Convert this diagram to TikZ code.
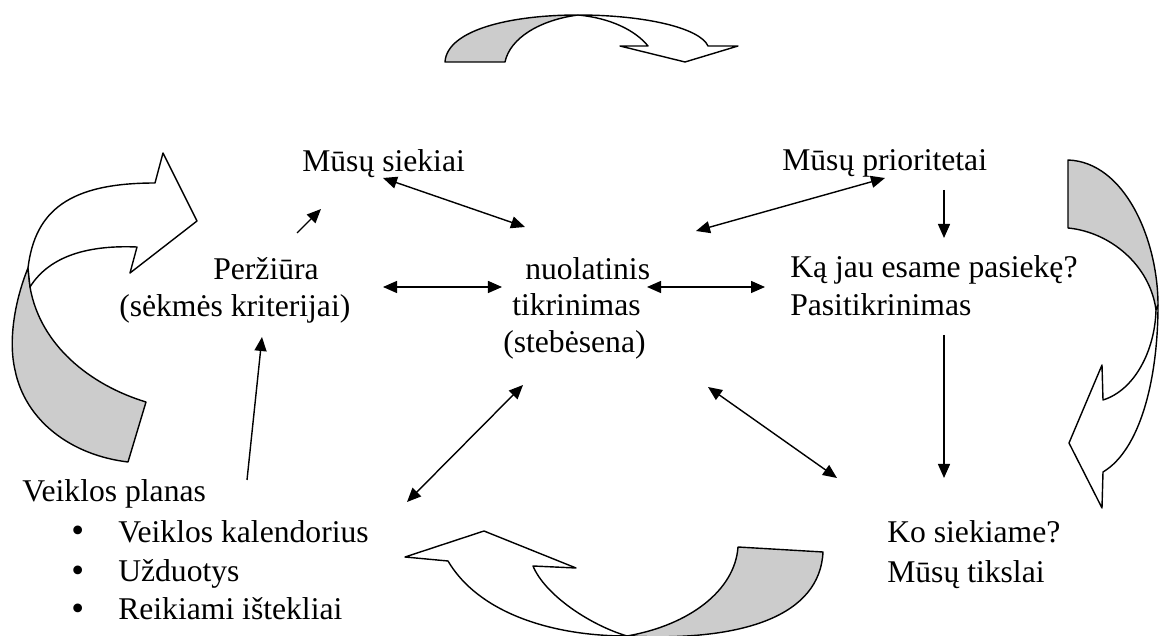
\documentclass[tikz,border=0pt]{standalone}
\usepackage{fontspec}
\setmainfont{Liberation Serif}
\usetikzlibrary{arrows.meta}
\tikzset{
  lbl/.style={anchor=base west, inner sep=0pt, font=\fontsize{22.5}{27}\selectfont},
  dotlbl/.style={anchor=base west, inner sep=0pt, font=\fontsize{26}{26}\selectfont},
  tip/.tip={Triangle[length=0.35cm,width=0.3cm]},
  one/.style={-tip, line width=1pt},
  both/.style={tip-tip, line width=1pt},
  band/.style={draw, line width=1pt, line join=round},
}

\begin{document}
\begin{tikzpicture}[x=0.025cm, y=-0.025cm]
    \useasboundingbox (0,0) rectangle (1160,636);
    % texts
    \node[lbl] (siekiai) at (302,172) {Mūsų siekiai};
    \node[lbl] (prior) at (782,171) {Mūsų prioritetai};
    \node[lbl] (perz) at (213,280) {Peržiūra};
    \node[lbl] (krit) at (119,317) {(sėkmės kriterijai)};
    \node[lbl] (nuol) at (525,280) {nuolatinis};
    \node[lbl] (tikr) at (512,316) {tikrinimas};
    \node[lbl] (steb) at (503,353) {(stebėsena)};
    \node[lbl] (ka) at (790,278) {Ką jau esame pasiekę?};
    \node[lbl] (pasit) at (790,316) {Pasitikrinimas};
    \node[lbl] (ko) at (887,542) {Ko siekiame?};
    \node[lbl] (tiksl) at (887,582) {Mūsų tikslai};
    \node[lbl] (planas) at (22,502) {Veiklos planas};
    \foreach \y/\name/\txt in {542/kal/Veiklos kalendorius, 581/uzd/Užduotys, 619/ist/Reikiami ištekliai} {
        \node[dotlbl] (dot\name) at (71,\y+1) {\textbullet};
        \node[lbl] (\name) at (118,\y) {\txt};
    }

    % connector ends
    \coordinate (s1) at (383,178);  \coordinate (n1) at (525,227);
    \coordinate (p1) at (297,233);  \coordinate (s2) at (321,209);
    \coordinate (p2) at (383,287);  \coordinate (n2) at (502,287);
    \coordinate (n3) at (647,287);  \coordinate (k1) at (765,287);
    \coordinate (r1) at (885,178);  \coordinate (n4) at (696,231);
    \coordinate (r2) at (944,190);  \coordinate (k2) at (944,238);
    \coordinate (k3) at (944,335);  \coordinate (t1) at (944,478);
    \coordinate (n5) at (708,387);  \coordinate (t2) at (837,478);
    \coordinate (n6) at (523,385);  \coordinate (v1) at (407,502);
    \coordinate (v2) at (247,480);  \coordinate (p3) at (262,337);

    \draw[both] (s1) -- (n1);
    \draw[one] (p1) -- (s2);
    \draw[both] (p2) -- (n2);
    \draw[both] (n3) -- (k1);
    \draw[both] (r1) -- (n4);
    \draw[one] (r2) -- (k2);
    \draw[one] (k3) -- (t1);
    \draw[both] (n5) -- (t2);
    \draw[both] (n6) -- (v1);
    \draw[one] (v2) -- (p3);

    % top curved arrow
    \filldraw[band, fill=gray!40] (445,62) -- (505,62) .. controls (510,38) and (540,20) .. (578,15)
        .. controls (510,15) and (447,30) .. (445,62) -- cycle;
    \filldraw[band, fill=white] (578,15) .. controls (645,15) and (700,28) .. (708,46) -- (738,46)
        -- (685,62) -- (620,46) -- (648,46) .. controls (635,30) and (610,18) .. (578,15) -- cycle;

    % left curved arrow
    \filldraw[band, fill=gray!40] (128,462) -- (146,402) .. controls (90,385) and (40,345) .. (30,287)
        -- (28,268) .. controls (15,300) and (8,340) .. (15,370) .. controls (25,420) and (70,455) .. (128,462) -- cycle;
    \filldraw[band, fill=white] (28,268) .. controls (35,210) and (70,183) .. (155,183) -- (163,153)
        -- (197,221) -- (130,273) -- (137,247) .. controls (90,245) and (50,255) .. (30,287) -- cycle;

    % right curved arrow
    \filldraw[band, fill=gray!40] (1068,160) -- (1068,228) .. controls (1110,232) and (1150,265) .. (1156,310)
        -- (1158,305) .. controls (1158,240) and (1125,162) .. (1068,160) -- cycle;
    \filldraw[band, fill=white] (1158,305) .. controls (1158,380) and (1140,450) .. (1103,472) -- (1102,508)
        -- (1069,443) -- (1102,365) -- (1103,400) .. controls (1135,390) and (1155,350) .. (1156,310) -- cycle;

    % bottom curved arrow
    \filldraw[band, fill=gray!40] (627,636) .. controls (690,625) and (735,590) .. (738,547) -- (823,552)
        .. controls (820,615) and (745,642) .. (627,636) -- cycle;
    \filldraw[band, fill=white] (533,566) -- (576,568) -- (484,531) -- (405,557) -- (448,561)
        .. controls (478,612) and (550,636) .. (627,636) .. controls (590,625) and (545,595) .. (533,566) -- cycle;
\end{tikzpicture}
\end{document}
